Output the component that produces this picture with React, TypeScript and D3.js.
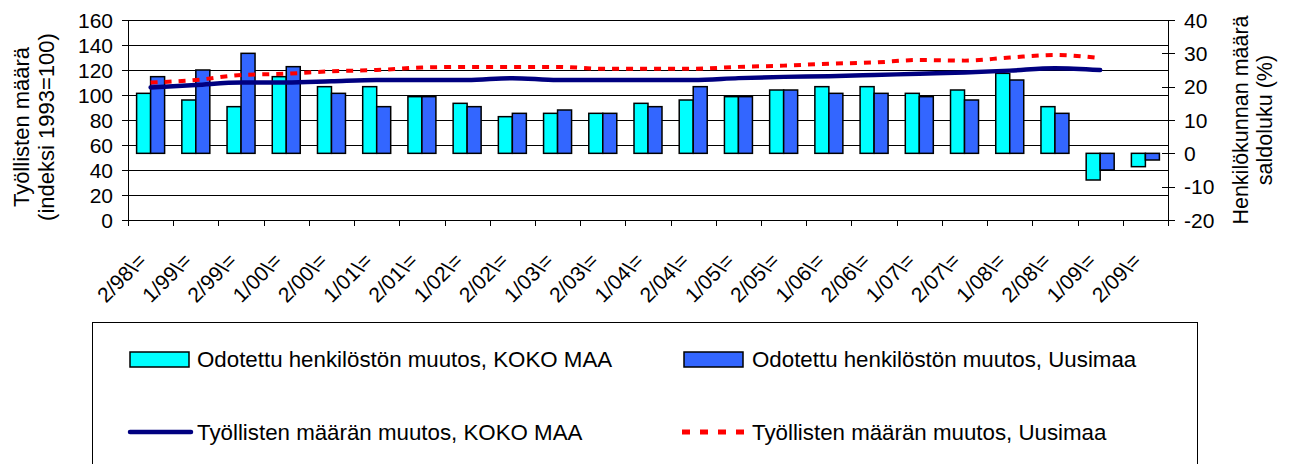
import React from "react";
import * as d3 from "d3";

const categories = ["2/98\\=", "1/99\\=", "2/99\\=", "1/00\\=", "2/00\\=", "1/01\\=", "2/01\\=", "1/02\\=", "2/02\\=", "1/03\\=", "2/03\\=", "1/04\\=", "2/04\\=", "1/05\\=", "2/05\\=", "1/06\\=", "2/06\\=", "1/07\\=", "2/07\\=", "1/08\\=", "2/08\\=", "1/09\\=", "2/09\\="];
const changeKoko = [18, 16, 14, 23, 20, 20, 17, 15, 11, 12, 12, 15, 16, 17, 19, 20, 20, 18, 19, 24, 14, -8, -4];
const changeUusimaa = [23, 25, 30, 26, 18, 14, 17, 14, 12, 13, 12, 14, 20, 17, 19, 18, 18, 17, 16, 22, 12, -5, -2];
const emplKoko = [106, 108, 110, 110, 111, 112, 112, 112, 113.5, 112, 112, 112, 112, 113.5, 114.5, 115, 116, 117, 118, 119.5, 121.5, 120];
const emplUusimaa = [110, 112, 116, 117, 119, 120, 122, 122.5, 122.5, 122.5, 121, 121, 121, 122.5, 123.5, 125, 126, 128, 127.5, 130, 132, 129.5];
const leftTicks = [0, 20, 40, 60, 80, 100, 120, 140, 160];
const rightTicks = [-20, -10, 0, 10, 20, 30, 40];
const legendLabels = [
  "Odotettu henkilöstön muutos, KOKO MAA",
  "Odotettu henkilöstön muutos, Uusimaa",
  "Työllisten määrän muutos, KOKO MAA",
  "Työllisten määrän muutos, Uusimaa",
];

const FONT = "'Liberation Sans', Arial, sans-serif";
const CYAN = "#00FFFF";
const BLUE = "#3366FF";
const NAVY = "#000080";
const RED = "#FF0000";

export default function App() {
  const left = 128, right = 1168, top = 20, bottom = 220;
  const x = d3.scaleBand<string>().domain(categories).range([left, right]).padding(0);
  const bw = x.bandwidth();
  const yL = d3.scaleLinear().domain([0, 160]).range([bottom, top]);
  const yR = d3.scaleLinear().domain([-20, 40]).range([bottom, top]);
  const barW = 14;
  const cx = (i: number) => (x(categories[i]) as number) + bw / 2;

  const line = d3
    .line<number>()
    .x((_, i) => cx(i))
    .y((d) => yL(d))
    .curve(d3.curveMonotoneX);

  const bar = (v: number, xPos: number, fill: string, key: string) => {
    const y0 = yR(0);
    const y1 = yR(v);
    return (
      <rect
        key={key}
        x={xPos}
        y={Math.min(y0, y1)}
        width={barW}
        height={Math.abs(y1 - y0)}
        fill={fill}
        stroke="#000"
        strokeWidth={1.5}
      />
    );
  };

  return (
    <svg width={1289} height={464} style={{ position: "absolute", left: 0, top: 0 }} fontFamily={FONT}>
      <rect x={0} y={0} width={1289} height={464} fill="#fff" />
      {leftTicks.map((t) => (
        <line key={"g" + t} x1={left} x2={right} y1={Math.round(yL(t)) + 0.5} y2={Math.round(yL(t)) + 0.5} stroke="#000" strokeWidth={1} />
      ))}
      {categories.map((c, i) => (
        <g key={c}>
          {bar(changeKoko[i], cx(i) - barW, CYAN, "k" + i)}
          {bar(changeUusimaa[i], cx(i), BLUE, "u" + i)}
        </g>
      ))}
      <path d={line(emplKoko) || ""} fill="none" stroke={NAVY} strokeWidth={4.5} strokeLinecap="round" />
      <path d={line(emplUusimaa) || ""} fill="none" stroke={RED} strokeWidth={4} strokeDasharray="7 7" />
      <line x1={left + 0.5} x2={left + 0.5} y1={top} y2={bottom} stroke="#000" />
      {leftTicks.map((t) => (
        <g key={"l" + t}>
          <line x1={left - 6} x2={left} y1={Math.round(yL(t)) + 0.5} y2={Math.round(yL(t)) + 0.5} stroke="#000" />
          <text x={113} y={yL(t)} dy="0.36em" textAnchor="end" fontSize={21} fill="#000">
            {t}
          </text>
        </g>
      ))}
      <line x1={right + 0.5} x2={right + 0.5} y1={top} y2={bottom} stroke="#000" />
      {rightTicks.map((t) => (
        <g key={"r" + t}>
          <line x1={right - 6} x2={right + 7} y1={Math.round(yR(t)) + 0.5} y2={Math.round(yR(t)) + 0.5} stroke="#000" />
          <text x={1184} y={yR(t)} dy="0.36em" textAnchor="start" fontSize={21} fill="#000">
            {t}
          </text>
        </g>
      ))}
      <line x1={left} x2={right + 1} y1={bottom + 0.5} y2={bottom + 0.5} stroke="#000" />
      {categories.map((c, i) => (
        <line key={"t" + i} x1={Math.round(x(c) as number) + 0.5} x2={Math.round(x(c) as number) + 0.5} y1={bottom} y2={bottom + 6} stroke="#000" />
      ))}
      <line x1={right + 0.5} x2={right + 0.5} y1={bottom} y2={bottom + 6} stroke="#000" />
      {categories.map((c, i) => (
        <text
          key={"c" + i}
          transform={`translate(${cx(i) - 3},${262}) rotate(-45)`}
          textAnchor="end"
          fontSize={21}
          fill="#000"
        >
          {c}
        </text>
      ))}
      <g transform="translate(28.5,127) rotate(-90)">
        <text textAnchor="middle" fontSize={22} fill="#000">Työllisten määrä</text>
      </g>
      <g transform="translate(54,127) rotate(-90)">
        <text textAnchor="middle" fontSize={22} fill="#000">(indeksi 1993=100)</text>
      </g>
      <g transform="translate(1247.5,120) rotate(-90)">
        <text textAnchor="middle" fontSize={21.5} fill="#000">Henkilökunnan määrä</text>
      </g>
      <g transform="translate(1272,120) rotate(-90)">
        <text textAnchor="middle" fontSize={21.5} fill="#000">saldoluku (%)</text>
      </g>
      <rect x={92.5} y={322.5} width={1105} height={200} fill="none" stroke="#000" strokeWidth={1} />
      <rect x={130} y={352} width={59} height={15} fill={CYAN} stroke="#000" strokeWidth={1.5} />
      <text x={197} y={367} fontSize={22.3} fill="#000">{legendLabels[0]}</text>
      <rect x={684} y={352} width={59} height={15} fill={BLUE} stroke="#000" strokeWidth={1.5} />
      <text x={752} y={367} fontSize={22.3} fill="#000">{legendLabels[1]}</text>
      <line x1={130} x2={191} y1={432} y2={432} stroke={NAVY} strokeWidth={4.5} strokeLinecap="round" />
      <text x={197} y={440} fontSize={22.3} fill="#000">{legendLabels[2]}</text>
      <line x1={682} x2={745} y1={432} y2={432} stroke={RED} strokeWidth={5} strokeDasharray="8 10" />
      <text x={752} y={440} fontSize={22.3} fill="#000">{legendLabels[3]}</text>
    </svg>
  );
}
